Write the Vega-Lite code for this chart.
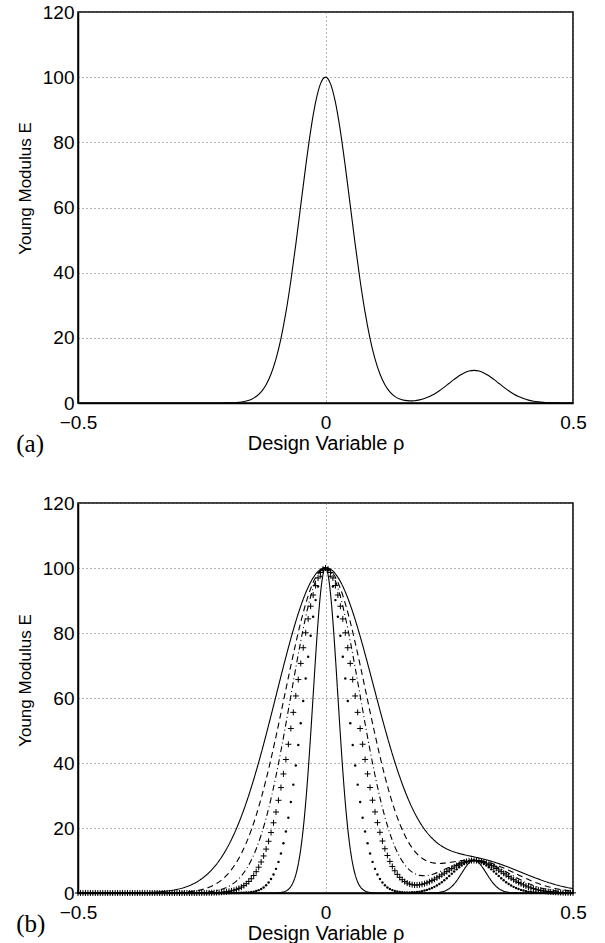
{
"$schema": "https://vega.github.io/schema/vega-lite/v6.json",
"background": "white",
"padding": {"left": 15, "top": 2, "right": 5, "bottom": 0},
"config": {
"view": {"stroke": "black", "strokeWidth": 1.5},
"axis": {"grid": true, "gridColor": "#666", "gridDash": [1, 3], "gridWidth": 1, "domainColor": "black", "domainWidth": 1.5, "ticks": false, "labelFont": "Liberation Sans", "labelFontSize": 19, "labelColor": "black", "titleFont": "Liberation Sans", "titleFontWeight": "normal", "titleColor": "black"},
"title": {"font": "Liberation Serif", "fontSize": 25, "fontWeight": "normal", "color": "black"}
},
"datasets": {
"a": [{"x":-0.5,"y":0},{"x":-0.49,"y":0},{"x":-0.48,"y":0},{"x":-0.47,"y":0},{"x":-0.46,"y":0},{"x":-0.45,"y":0},{"x":-0.44,"y":0},{"x":-0.43,"y":0},{"x":-0.42,"y":0},{"x":-0.41,"y":0},{"x":-0.4,"y":0},{"x":-0.39,"y":0},{"x":-0.38,"y":0},{"x":-0.37,"y":0},{"x":-0.36,"y":0},{"x":-0.35,"y":0},{"x":-0.34,"y":0},{"x":-0.33,"y":0},{"x":-0.32,"y":0},{"x":-0.31,"y":0},{"x":-0.3,"y":0},{"x":-0.29,"y":0},{"x":-0.28,"y":0},{"x":-0.27,"y":0},{"x":-0.26,"y":0},{"x":-0.25,"y":0},{"x":-0.24,"y":0},{"x":-0.23,"y":0},{"x":-0.22,"y":0},{"x":-0.21,"y":0.01},{"x":-0.2,"y":0.03},{"x":-0.19,"y":0.07},{"x":-0.18,"y":0.15},{"x":-0.17,"y":0.31},{"x":-0.16,"y":0.6},{"x":-0.15,"y":1.11},{"x":-0.14,"y":1.98},{"x":-0.13,"y":3.4},{"x":-0.12,"y":5.61},{"x":-0.11,"y":8.89},{"x":-0.1,"y":13.53},{"x":-0.09,"y":19.79},{"x":-0.08,"y":27.8},{"x":-0.07,"y":37.53},{"x":-0.06,"y":48.68},{"x":-0.05,"y":60.65},{"x":-0.04,"y":72.61},{"x":-0.03,"y":83.53},{"x":-0.02,"y":92.31},{"x":-0.01,"y":98.02},{"x":0,"y":100},{"x":0.01,"y":98.02},{"x":0.02,"y":92.31},{"x":0.03,"y":83.53},{"x":0.04,"y":72.61},{"x":0.05,"y":60.65},{"x":0.06,"y":48.68},{"x":0.07,"y":37.53},{"x":0.08,"y":27.8},{"x":0.09,"y":19.79},{"x":0.1,"y":13.53},{"x":0.11,"y":8.9},{"x":0.12,"y":5.63},{"x":0.13,"y":3.43},{"x":0.14,"y":2.04},{"x":0.15,"y":1.22},{"x":0.16,"y":0.8},{"x":0.17,"y":0.65},{"x":0.18,"y":0.71},{"x":0.19,"y":0.96},{"x":0.2,"y":1.38},{"x":0.21,"y":1.99},{"x":0.22,"y":2.78},{"x":0.23,"y":3.75},{"x":0.24,"y":4.87},{"x":0.25,"y":6.07},{"x":0.26,"y":7.26},{"x":0.27,"y":8.35},{"x":0.28,"y":9.23},{"x":0.29,"y":9.8},{"x":0.3,"y":10},{"x":0.31,"y":9.8},{"x":0.32,"y":9.23},{"x":0.33,"y":8.35},{"x":0.34,"y":7.26},{"x":0.35,"y":6.07},{"x":0.36,"y":4.87},{"x":0.37,"y":3.75},{"x":0.38,"y":2.78},{"x":0.39,"y":1.98},{"x":0.4,"y":1.35},{"x":0.41,"y":0.89},{"x":0.42,"y":0.56},{"x":0.43,"y":0.34},{"x":0.44,"y":0.2},{"x":0.45,"y":0.11},{"x":0.46,"y":0.06},{"x":0.47,"y":0.03},{"x":0.48,"y":0.02},{"x":0.49,"y":0.01},{"x":0.5,"y":0}],
"b": [
{"x":-0.5,"s1":0,"dt":0,"pl":0,"dd":0,"ds":0,"s6":0},
{"x":-0.495,"dt":0,"pl":0},
{"x":-0.49,"dt":0,"pl":0,"dd":0,"ds":0,"s6":0},
{"x":-0.485,"dt":0,"pl":0},
{"x":-0.48,"dt":0,"pl":0,"dd":0,"ds":0,"s6":0},
{"x":-0.475,"dt":0,"pl":0},
{"x":-0.47,"dt":0,"pl":0,"dd":0,"ds":0,"s6":0},
{"x":-0.465,"dt":0,"pl":0},
{"x":-0.46,"dt":0,"pl":0,"dd":0,"ds":0,"s6":0},
{"x":-0.455,"dt":0,"pl":0},
{"x":-0.45,"dt":0,"pl":0,"dd":0,"ds":0,"s6":0},
{"x":-0.445,"dt":0,"pl":0},
{"x":-0.44,"dt":0,"pl":0,"dd":0,"ds":0,"s6":0},
{"x":-0.435,"dt":0,"pl":0},
{"x":-0.43,"dt":0,"pl":0,"dd":0,"ds":0,"s6":0.01},
{"x":-0.425,"dt":0,"pl":0},
{"x":-0.42,"dt":0,"pl":0,"dd":0,"ds":0,"s6":0.01},
{"x":-0.415,"dt":0,"pl":0},
{"x":-0.41,"dt":0,"pl":0,"dd":0,"ds":0,"s6":0.02},
{"x":-0.405,"dt":0,"pl":0},
{"x":-0.4,"dt":0,"pl":0,"dd":0,"ds":0,"s6":0.03},
{"x":-0.395,"dt":0,"pl":0},
{"x":-0.39,"dt":0,"pl":0,"dd":0,"ds":0,"s6":0.05},
{"x":-0.385,"dt":0,"pl":0},
{"x":-0.38,"dt":0,"pl":0,"dd":0,"ds":0,"s6":0.07},
{"x":-0.375,"dt":0,"pl":0},
{"x":-0.37,"dt":0,"pl":0,"dd":0,"ds":0,"s6":0.11},
{"x":-0.365,"dt":0,"pl":0},
{"x":-0.36,"dt":0,"pl":0,"dd":0,"ds":0,"s6":0.15},
{"x":-0.355,"dt":0,"pl":0},
{"x":-0.35,"dt":0,"pl":0,"dd":0,"ds":0.01,"s6":0.22},
{"x":-0.345,"dt":0,"pl":0},
{"x":-0.34,"dt":0,"pl":0,"dd":0,"ds":0.02,"s6":0.31},
{"x":-0.335,"dt":0,"pl":0},
{"x":-0.33,"dt":0,"pl":0,"dd":0,"ds":0.04,"s6":0.43},
{"x":-0.325,"dt":0,"pl":0},
{"x":-0.32,"dt":0,"pl":0,"dd":0,"ds":0.06,"s6":0.6},
{"x":-0.315,"dt":0,"pl":0},
{"x":-0.31,"dt":0,"pl":0,"dd":0,"ds":0.09,"s6":0.82},
{"x":-0.305,"dt":0,"pl":0},
{"x":-0.3,"dt":0,"pl":0,"dd":0.01,"ds":0.14,"s6":1.11},
{"x":-0.295,"dt":0,"pl":0},
{"x":-0.29,"dt":0,"pl":0,"dd":0.02,"ds":0.22,"s6":1.49},
{"x":-0.285,"dt":0,"pl":0},
{"x":-0.28,"dt":0,"pl":0,"dd":0.03,"ds":0.33,"s6":1.98},
{"x":-0.275,"dt":0,"pl":0},
{"x":-0.27,"dt":0,"pl":0,"dd":0.06,"ds":0.49,"s6":2.61},
{"x":-0.265,"dt":0,"pl":0},
{"x":-0.26,"dt":0,"pl":0,"dd":0.1,"ds":0.72,"s6":3.4},
{"x":-0.255,"dt":0,"pl":0.01},
{"x":-0.25,"dt":0,"pl":0.02,"dd":0.17,"ds":1.04,"s6":4.39},
{"x":-0.245,"dt":0,"pl":0.02},
{"x":-0.24,"dt":0,"pl":0.03,"dd":0.28,"ds":1.49,"s6":5.61},
{"x":-0.235,"dt":0,"pl":0.05},
{"x":-0.23,"dt":0,"pl":0.06,"dd":0.45,"ds":2.1,"s6":7.1},
{"x":-0.225,"dt":0,"pl":0.09},
{"x":-0.22,"dt":0,"pl":0.12,"dd":0.72,"ds":2.92,"s6":8.89},
{"x":-0.215,"dt":0,"pl":0.16},
{"x":-0.21,"dt":0,"pl":0.22,"dd":1.11,"ds":4,"s6":11.03},
{"x":-0.205,"dt":0,"pl":0.29},
{"x":-0.2,"dt":0,"pl":0.38,"dd":1.69,"ds":5.39,"s6":13.53},
{"x":-0.195,"dt":0,"pl":0.51},
{"x":-0.19,"dt":0,"pl":0.66,"dd":2.52,"ds":7.17,"s6":16.45},
{"x":-0.185,"dt":0.01,"pl":0.86},
{"x":-0.18,"dt":0.02,"pl":1.11,"dd":3.67,"ds":9.39,"s6":19.79},
{"x":-0.175,"dt":0.03,"pl":1.42},
{"x":-0.17,"dt":0.05,"pl":1.8,"dd":5.25,"ds":12.13,"s6":23.57},
{"x":-0.165,"dt":0.08,"pl":2.27},
{"x":-0.16,"dt":0.13,"pl":2.85,"dd":7.34,"ds":15.43,"s6":27.8},
{"x":-0.155,"dt":0.19,"pl":3.55},
{"x":-0.15,"dt":0.29,"pl":4.38,"dd":10.08,"ds":19.35,"s6":32.47},
{"x":-0.145,"dt":0.42,"pl":5.38},
{"x":-0.14,"dt":0.61,"pl":6.56,"dd":13.55,"ds":23.91,"s6":37.53},
{"x":-0.135,"dt":0.88,"pl":7.94},
{"x":-0.13,"dt":1.24,"pl":9.54,"dd":17.84,"ds":29.12,"s6":42.95},
{"x":-0.125,"dt":1.72,"pl":11.4},
{"x":-0.12,"dt":2.37,"pl":13.51,"dd":23.02,"ds":34.95,"s6":48.68},
{"x":-0.115,"dt":3.21,"pl":15.91},
{"x":-0.11,"s1":0,"dt":4.3,"pl":18.6,"dd":29.11,"ds":41.34,"s6":54.61},
{"x":-0.105,"s1":0.01,"dt":5.69,"pl":21.6},
{"x":-0.1,"s1":0.03,"dt":7.43,"pl":24.91,"dd":36.06,"ds":48.19,"s6":60.65},
{"x":-0.095,"s1":0.07,"dt":9.57,"pl":28.52},
{"x":-0.09,"s1":0.15,"dt":12.17,"pl":32.44,"dd":43.77,"ds":55.36,"s6":66.7},
{"x":-0.085,"s1":0.31,"dt":15.28,"pl":36.63},
{"x":-0.08,"s1":0.6,"dt":18.94,"pl":41.08,"dd":52.06,"ds":62.68,"s6":72.62},
{"x":-0.075,"s1":1.11,"dt":23.17,"pl":45.76},
{"x":-0.07,"s1":1.98,"dt":27.97,"pl":50.61,"dd":60.67,"ds":69.93,"s6":78.28},
{"x":-0.065,"s1":3.4,"dt":33.34,"pl":55.58},
{"x":-0.06,"s1":5.61,"dt":39.22,"pl":60.63,"dd":69.27,"ds":76.89,"s6":83.55},
{"x":-0.055,"s1":8.89,"dt":45.54,"pl":65.67},
{"x":-0.05,"s1":13.53,"dt":52.2,"pl":70.64,"dd":77.49,"ds":83.32,"s6":88.27},
{"x":-0.045,"s1":19.79,"dt":59.07,"pl":75.47},
{"x":-0.04,"s1":27.8,"dt":65.97,"pl":80.06,"dd":84.94,"ds":88.98,"s6":92.34},
{"x":-0.035,"s1":37.53,"dt":72.72,"pl":84.34},
{"x":-0.03,"s1":48.68,"dt":79.13,"pl":88.24,"dd":91.23,"ds":93.64,"s6":95.64},
{"x":-0.025,"s1":60.65,"dt":85,"pl":91.68},
{"x":-0.02,"s1":72.61,"dt":90.12,"pl":94.59,"dd":96,"ds":97.12,"s6":98.08},
{"x":-0.015,"s1":83.53,"dt":94.32,"pl":96.92},
{"x":-0.01,"s1":92.31,"dt":97.43,"pl":98.62,"dd":98.99,"ds":99.27,"s6":99.58},
{"x":-0.005,"s1":98.02,"dt":99.35,"pl":99.65},
{"x":0,"s1":100,"dt":100,"pl":100,"dd":100,"ds":100,"s6":100.11},
{"x":0.005,"s1":98.02,"dt":99.35,"pl":99.65},
{"x":0.01,"s1":92.31,"dt":97.43,"pl":98.62,"dd":98.99,"ds":99.29,"s6":99.65},
{"x":0.015,"s1":83.53,"dt":94.32,"pl":96.92},
{"x":0.02,"s1":72.61,"dt":90.12,"pl":94.59,"dd":96,"ds":97.15,"s6":98.22},
{"x":0.025,"s1":60.65,"dt":85,"pl":91.68},
{"x":0.03,"s1":48.68,"dt":79.13,"pl":88.24,"dd":91.24,"ds":93.69,"s6":95.86},
{"x":0.035,"s1":37.53,"dt":72.72,"pl":84.34},
{"x":0.04,"s1":27.8,"dt":65.97,"pl":80.06,"dd":84.95,"ds":89.05,"s6":92.65},
{"x":0.045,"s1":19.79,"dt":59.07,"pl":75.47},
{"x":0.05,"s1":13.53,"dt":52.2,"pl":70.64,"dd":77.51,"ds":83.42,"s6":88.69},
{"x":0.055,"s1":8.89,"dt":45.54,"pl":65.67},
{"x":0.06,"s1":5.61,"dt":39.22,"pl":60.63,"dd":69.3,"ds":77.04,"s6":84.09},
{"x":0.065,"s1":3.4,"dt":33.34,"pl":55.58},
{"x":0.07,"s1":1.98,"dt":27.97,"pl":50.61,"dd":60.72,"ds":70.14,"s6":78.98},
{"x":0.075,"s1":1.11,"dt":23.17,"pl":45.77},
{"x":0.08,"s1":0.6,"dt":18.94,"pl":41.09,"dd":52.13,"ds":62.97,"s6":73.5},
{"x":0.085,"s1":0.31,"dt":15.28,"pl":36.65},
{"x":0.09,"s1":0.15,"dt":12.17,"pl":32.46,"dd":43.88,"ds":55.76,"s6":67.8},
{"x":0.095,"s1":0.07,"dt":9.57,"pl":28.55},
{"x":0.1,"s1":0.03,"dt":7.43,"pl":24.95,"dd":36.23,"ds":48.73,"s6":62},
{"x":0.105,"s1":0.01,"dt":5.69,"pl":21.65},
{"x":0.11,"s1":0,"dt":4.3,"pl":18.67,"dd":29.36,"ds":42.06,"s6":56.25},
{"x":0.115,"dt":3.21,"pl":16},
{"x":0.12,"dt":2.37,"pl":13.62,"dd":23.39,"ds":35.89,"s6":50.66},
{"x":0.125,"dt":1.72,"pl":11.54},
{"x":0.13,"dt":1.25,"pl":9.72,"dd":18.36,"ds":30.33,"s6":45.31},
{"x":0.135,"dt":0.89,"pl":8.17},
{"x":0.14,"dt":0.62,"pl":6.85,"dd":14.28,"ds":25.45,"s6":40.31},
{"x":0.145,"dt":0.44,"pl":5.74},
{"x":0.15,"dt":0.32,"pl":4.82,"dd":11.09,"ds":21.29,"s6":35.72},
{"x":0.155,"dt":0.23,"pl":4.09},
{"x":0.16,"dt":0.19,"pl":3.51,"dd":8.7,"ds":17.82,"s6":31.55},
{"x":0.165,"dt":0.17,"pl":3.06},
{"x":0.17,"dt":0.17,"pl":2.76,"dd":7.03,"ds":15.04,"s6":27.87},
{"x":0.175,"dt":0.2,"pl":2.56},
{"x":0.18,"dt":0.26,"pl":2.46,"dd":5.97,"ds":12.89,"s6":24.66},
{"x":0.185,"dt":0.33,"pl":2.45},
{"x":0.19,"dt":0.43,"pl":2.52,"dd":5.43,"ds":11.3,"s6":21.91},
{"x":0.195,"dt":0.57,"pl":2.67},
{"x":0.2,"s1":0,"dt":0.74,"pl":2.87,"dd":5.3,"ds":10.21,"s6":19.6},
{"x":0.205,"s1":0.01,"dt":0.96,"pl":3.14},
{"x":0.21,"s1":0.02,"dt":1.22,"pl":3.46,"dd":5.49,"ds":9.54,"s6":17.7},
{"x":0.215,"s1":0.03,"dt":1.53,"pl":3.82},
{"x":0.22,"s1":0.06,"dt":1.89,"pl":4.23,"dd":5.93,"ds":9.19,"s6":16.15},
{"x":0.225,"s1":0.11,"dt":2.32,"pl":4.66},
{"x":0.23,"s1":0.2,"dt":2.8,"pl":5.13,"dd":6.52,"ds":9.09,"s6":14.93},
{"x":0.235,"s1":0.34,"dt":3.33,"pl":5.6},
{"x":0.24,"s1":0.56,"dt":3.92,"pl":6.1,"dd":7.21,"ds":9.18,"s6":13.96},
{"x":0.245,"s1":0.89,"dt":4.55,"pl":6.59},
{"x":0.25,"s1":1.35,"dt":5.22,"pl":7.08,"dd":7.92,"ds":9.37,"s6":13.21},
{"x":0.255,"s1":1.98,"dt":5.91,"pl":7.56},
{"x":0.26,"s1":2.78,"dt":6.6,"pl":8.01,"dd":8.59,"ds":9.62,"s6":12.63},
{"x":0.265,"s1":3.75,"dt":7.27,"pl":8.44},
{"x":0.27,"s1":4.87,"dt":7.91,"pl":8.83,"dd":9.18,"ds":9.85,"s6":12.17},
{"x":0.275,"s1":6.07,"dt":8.5,"pl":9.17},
{"x":0.28,"s1":7.26,"dt":9.01,"pl":9.46,"dd":9.63,"ds":10.04,"s6":11.78},
{"x":0.285,"s1":8.35,"dt":9.43,"pl":9.69},
{"x":0.29,"s1":9.23,"dt":9.74,"pl":9.86,"dd":9.92,"ds":10.15,"s6":11.44},
{"x":0.295,"s1":9.8,"dt":9.94,"pl":9.97},
{"x":0.3,"s1":10,"dt":10,"pl":10,"dd":10.01,"ds":10.14,"s6":11.11},
{"x":0.305,"s1":9.8,"dt":9.94,"pl":9.97},
{"x":0.31,"s1":9.23,"dt":9.74,"pl":9.86,"dd":9.9,"ds":10.02,"s6":10.77},
{"x":0.315,"s1":8.35,"dt":9.43,"pl":9.69},
{"x":0.32,"s1":7.26,"dt":9.01,"pl":9.46,"dd":9.6,"ds":9.77,"s6":10.4},
{"x":0.325,"s1":6.07,"dt":8.5,"pl":9.17},
{"x":0.33,"s1":4.87,"dt":7.91,"pl":8.82,"dd":9.12,"ds":9.4,"s6":9.99},
{"x":0.335,"s1":3.75,"dt":7.27,"pl":8.43},
{"x":0.34,"s1":2.78,"dt":6.6,"pl":8.01,"dd":8.49,"ds":8.92,"s6":9.54},
{"x":0.345,"s1":1.98,"dt":5.91,"pl":7.55},
{"x":0.35,"s1":1.35,"dt":5.22,"pl":7.06,"dd":7.75,"ds":8.34,"s6":9.04},
{"x":0.355,"s1":0.89,"dt":4.55,"pl":6.57},
{"x":0.36,"s1":0.56,"dt":3.92,"pl":6.06,"dd":6.93,"ds":7.69,"s6":8.5},
{"x":0.365,"s1":0.34,"dt":3.33,"pl":5.56},
{"x":0.37,"s1":0.2,"dt":2.8,"pl":5.06,"dd":6.07,"ds":6.99,"s6":7.94},
{"x":0.375,"s1":0.11,"dt":2.32,"pl":4.58},
{"x":0.38,"s1":0.06,"dt":1.89,"pl":4.11,"dd":5.21,"ds":6.27,"s6":7.33},
{"x":0.385,"s1":0.03,"dt":1.53,"pl":3.66},
{"x":0.39,"s1":0.02,"dt":1.22,"pl":3.24,"dd":4.38,"ds":5.54,"s6":6.72},
{"x":0.395,"s1":0.01,"dt":0.96,"pl":2.85},
{"x":0.4,"s1":0,"dt":0.74,"pl":2.49,"dd":3.61,"ds":4.82,"s6":6.1},
{"x":0.405,"dt":0.57,"pl":2.16},
{"x":0.41,"dt":0.43,"pl":1.86,"dd":2.91,"ds":4.13,"s6":5.48},
{"x":0.415,"dt":0.32,"pl":1.59},
{"x":0.42,"dt":0.24,"pl":1.35,"dd":2.3,"ds":3.5,"s6":4.88},
{"x":0.425,"dt":0.17,"pl":1.14},
{"x":0.43,"dt":0.12,"pl":0.95,"dd":1.78,"ds":2.91,"s6":4.31},
{"x":0.435,"dt":0.09,"pl":0.79},
{"x":0.44,"dt":0.06,"pl":0.66,"dd":1.35,"ds":2.39,"s6":3.75},
{"x":0.445,"dt":0.04,"pl":0.54},
{"x":0.45,"dt":0.03,"pl":0.44,"dd":1.01,"ds":1.94,"s6":3.25},
{"x":0.455,"dt":0.02,"pl":0.35},
{"x":0.46,"dt":0.01,"pl":0.28,"dd":0.73,"ds":1.54,"s6":2.78},
{"x":0.465,"dt":0,"pl":0.23},
{"x":0.47,"dt":0,"pl":0.18,"dd":0.52,"ds":1.21,"s6":2.36},
{"x":0.475,"dt":0,"pl":0.14},
{"x":0.48,"dt":0,"pl":0.11,"dd":0.37,"ds":0.94,"s6":1.98},
{"x":0.485,"dt":0,"pl":0.09},
{"x":0.49,"dt":0,"pl":0.07,"dd":0.25,"ds":0.72,"s6":1.64},
{"x":0.495,"dt":0,"pl":0.05},
{"x":0.5,"s1":0,"dt":0,"pl":0.04,"dd":0.17,"ds":0.54,"s6":1.35}
]
},
"bounds": "flush",
"spacing": 100,
"vconcat": [
{
"width": 495, "height": 391,
"title": {"text": "(a)", "orient": "bottom", "anchor": "start", "frame": "bounds", "offset": -21},
"data": {"name": "a"},
"encoding": {
"x": {"field": "x", "type": "quantitative", "scale": {"domain": [-0.5, 0.5], "nice": false, "zero": false}, "axis": {"values": [-0.5, 0, 0.5], "format": "~g", "title": "Design Variable ρ", "titleFontSize": 20, "labelFlush": false, "labelPadding": 10, "titlePadding": 1}},
"y": {"field": "y", "type": "quantitative", "scale": {"domain": [0, 120], "nice": false}, "axis": {"values": [0, 20, 40, 60, 80, 100, 120], "title": "Young Modulus E", "titleFontSize": 17, "titleY": 176, "labelPadding": 4, "titlePadding": 8}}
},
"layer": [
{"mark": {"type": "line", "color": "black", "strokeWidth": 1.1, "interpolate": "monotone"}}
]
},
{
"width": 495, "height": 390,
"title": {"text": "(b)", "orient": "bottom", "anchor": "start", "frame": "bounds", "offset": -31},
"data": {"name": "b"},
"transform": [{"fold": ["s1", "dt", "pl", "dd", "ds", "s6"], "as": ["c", "y"]}, {"filter": "isValid(datum.y)"}],
"encoding": {
"x": {"field": "x", "type": "quantitative", "scale": {"domain": [-0.5, 0.5], "nice": false, "zero": false}, "axis": {"values": [-0.5, 0, 0.5], "format": "~g", "title": "Design Variable ρ", "titleFontSize": 20, "labelFlush": false, "labelPadding": 10, "titlePadding": 1}},
"y": {"field": "y", "type": "quantitative", "scale": {"domain": [0, 120], "nice": false}, "axis": {"values": [0, 20, 40, 60, 80, 100, 120], "title": "Young Modulus E", "titleFontSize": 17, "titleY": 177, "labelPadding": 4, "titlePadding": 8}}
},
"layer": [
{"transform": [{"filter": {"field": "c", "oneOf": ["s1", "dd", "ds", "s6"]}}],
 "mark": {"type": "line", "color": "black", "strokeWidth": 1.1, "interpolate": "monotone"},
 "encoding": {"detail": {"field": "c"}, "strokeDash": {"field": "c", "type": "nominal", "scale": {"domain": ["s1", "dd", "ds", "s6"], "range": [[1, 0], [6, 3, 1, 3], [6, 4], [1, 0]]}, "legend": null}}},
{"transform": [{"filter": "datum.c == 'dt'"}],
 "mark": {"type": "point", "shape": "circle", "filled": true, "size": 6, "color": "black", "opacity": 1}},
{"transform": [{"filter": "datum.c == 'pl'"}],
 "mark": {"type": "point", "shape": "M-1,0L1,0M0,-1L0,1", "filled": false, "size": 36, "color": "black", "strokeWidth": 1, "opacity": 1}}
]
}
]
}
